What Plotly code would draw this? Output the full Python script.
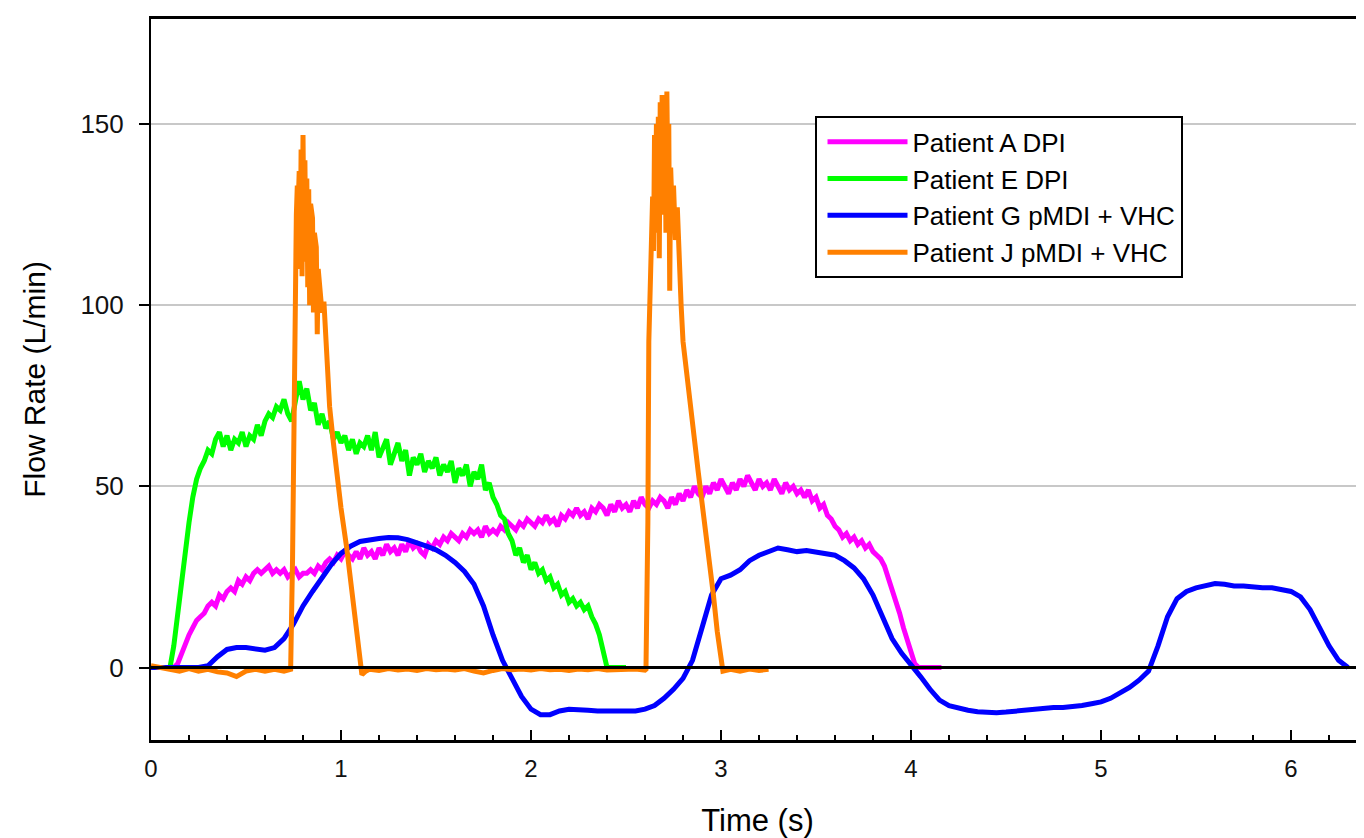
import numpy as np
import plotly.graph_objects as go

# ---------------- data ----------------
series_names = ["Patient A DPI", "Patient E DPI", "Patient G pMDI + VHC", "Patient J pMDI + VHC"]
series_colors = ["#FF00FF", "#00FF00", "#0000FF", "#FF8000"]

# Patient A DPI (magenta), sampled every 0.02 s from 0 to 4.16 s
time_A = np.round(np.arange(0, 4.16 + 1e-9, 0.02), 3)
flow_A = [
    0, 0, 0, 0, 0, 0, 0, 1, 4, 7,
    9, 11, 13, 14, 15, 17, 18, 17, 20, 19,
    21, 22, 21, 24, 23, 25, 24, 26, 27, 26,
    27, 28, 26, 27, 26, 27, 25, 26, 27, 25,
    26, 26, 27, 26, 28, 27, 29, 30, 29, 31,
    30, 32, 31, 30, 32, 30, 33, 31, 32, 30,
    33, 31, 34, 32, 33, 31, 34, 32, 35, 33,
    34, 32, 31, 34, 33, 35, 34, 36, 35, 37,
    36, 35, 37, 36, 38, 37, 38, 36, 39, 37,
    38, 37, 39, 38, 40, 39, 38, 40, 39, 41,
    40, 39, 41, 40, 42, 40, 41, 39, 42, 41,
    43, 42, 44, 42, 43, 41, 44, 43, 45, 44,
    42, 45, 43, 46, 44, 45, 43, 46, 44, 47,
    45, 44, 46, 45, 47, 46, 44, 47, 45, 48,
    46, 49, 47, 50, 48, 47, 50, 48, 51, 49,
    52, 50, 48, 51, 49, 52, 50, 53, 51, 49,
    52, 50, 51, 49, 52, 50, 48, 51, 49, 50,
    48, 49, 47, 49, 46, 47, 44, 45, 42, 41,
    39, 38, 36, 37, 35, 36, 34, 35, 33, 34,
    32, 31, 30, 28, 25, 22, 18, 15, 11, 8,
    4, 1, 0, 0, 0, 0, 0, 0, 0,
]

# Patient E DPI (green), sampled every 0.02 s from 0 to 2.50 s
time_E = np.round(np.arange(0, 2.50 + 1e-9, 0.02), 3)
flow_E = [
    0, 0, 0, 0, 0, 0,
    6, 15, 24, 32, 40, 47, 52, 55, 57, 60,
    59, 63, 65, 61, 64, 60, 63, 62, 65, 61,
    64, 63, 67, 64, 68, 70, 69, 72, 71, 74,
    70, 68, 73, 79, 74, 77, 71, 73, 67, 70,
    66, 68, 63, 65, 62, 64, 60, 63, 59, 62,
    61, 64, 60, 65, 58, 61, 63, 56, 59, 62,
    57, 60, 53, 58, 56, 59, 54, 57, 55, 58,
    53, 56, 54, 57, 51, 55, 53, 56, 50, 54,
    52, 56, 49, 51, 47, 45, 42, 41, 37, 35,
    31, 33, 29, 31, 27, 29, 26, 27, 24, 25,
    22, 23, 20, 21, 18, 19, 17, 18, 16, 17,
    14, 12, 9, 5, 0, 0, 0, 0, 0, 0,
]

# Patient G pMDI + VHC (blue), sampled every 0.05 s from 0 to 6.30 s
time_G = np.round(np.arange(0, 6.30 + 1e-9, 0.05), 3)
flow_G = [
    0, 0, 0, 0, 0, 0, 0.5, 3, 5, 5.5,
    5.5, 5, 4.8, 5.5, 8, 12, 17, 21, 25, 28.5,
    31.5, 33.5, 34.8, 35.3, 35.6, 35.9, 35.8, 35.3, 34.5, 33.5,
    32.5, 31, 29, 26.5, 23, 17, 9, 2, -3, -8,
    -11.5, -13, -13, -12, -11.5, -11.5, -11.8, -12, -12, -12.2,
    -12, -12, -11.5, -10.5, -8.5, -6, -3, 2, 11, 20,
    24.5, 25.5, 27, 29.5, 31, 32, 33, 32.5, 32, 32.3,
    31.8, 31.5, 31, 29.5, 27.5, 24.5, 20, 14, 8, 4,
    1, -2.5, -6, -9, -10.5, -11.2, -11.8, -12.2, -12.5, -12.5,
    -12.3, -12, -11.8, -11.5, -11.3, -11, -11, -10.8, -10.5, -10,
    -9.5, -8.5, -7, -5.5, -3.5, -1, 6, 14, 19, 21,
    22, 22.5, 23.2, 23, 22.5, 22.5, 22.2, 22, 22, 21.5,
    21, 19.5, 16, 11, 6, 2, 0,
]

# Patient J pMDI + VHC (orange), irregular sampling around the two spikes
time_J = [
    0.00, 0.05, 0.10, 0.15, 0.20, 0.25, 0.30, 0.35, 0.40, 0.45, 0.50, 0.55, 0.60, 0.65, 0.70, 0.735,
    0.745, 0.755, 0.765, 0.77, 0.775, 0.78, 0.785, 0.79, 0.795, 0.80, 0.805, 0.81, 0.815, 0.82,
    0.825, 0.83, 0.835, 0.84, 0.85, 0.855, 0.86, 0.87, 0.875, 0.88, 0.89, 0.90, 0.91, 0.92,
    0.93, 0.94, 0.96, 0.98, 1.00, 1.03, 1.05, 1.07, 1.09, 1.11, 1.13,
    1.15, 1.20, 1.25, 1.30, 1.35, 1.40, 1.45, 1.50, 1.55, 1.60, 1.65, 1.70, 1.75, 1.80, 1.85,
    1.90, 1.95, 2.00, 2.05, 2.10, 2.15, 2.20, 2.25, 2.30, 2.35, 2.40, 2.45, 2.50, 2.55, 2.60, 2.605,
    2.615, 2.62, 2.63, 2.64, 2.645, 2.65, 2.655, 2.66, 2.665, 2.67, 2.675, 2.68, 2.685, 2.69,
    2.70, 2.705, 2.71, 2.715, 2.72, 2.725, 2.73, 2.735, 2.74, 2.75, 2.76, 2.77, 2.78, 2.79,
    2.80, 2.82, 2.84, 2.86, 2.88, 2.90, 2.92, 2.94, 2.96, 2.98, 3.00, 3.01,
    3.05, 3.10, 3.15, 3.20, 3.25,
]
flow_J = [
    0.5, 0, -0.5, -1, -0.3, -1, -0.5, -1.2, -1.5, -2.5, -1, -0.5, -1, -0.5, -1, -0.5,
    30, 90, 125, 133, 128, 137, 110, 143, 108, 147, 118, 140, 112, 135,
    105, 132, 100, 128, 124, 98, 120, 116, 92, 110, 104, 98, 101, 92,
    80, 72, 62, 52, 44, 33, 24, 14, 5, -2, -1,
    -0.5, -0.8, -0.3, -0.7, -0.4, -0.8, -0.3, -0.6, -0.4, -0.7, -0.3, -1, -1.5, -0.8, -0.3,
    -0.6, -0.4, -0.7, -0.3, -0.6, -0.5, -0.8, -0.4, -0.6, -0.3, -0.7, -0.5, -0.6, -0.4, -0.7, -0.5,
    40, 90, 110, 130, 115, 147, 125, 150, 120, 152, 113, 156, 125, 158,
    140, 155, 120, 159, 135, 150, 104, 138, 130, 133, 118, 127, 110, 100,
    90, 80, 72, 63, 54, 46, 38, 29, 20, 10, 1, -1,
    -0.5, -1, -0.4, -0.8, -0.5,
]

y_tick_values = [0, 50, 100, 150]
x_tick_values = [0, 1, 2, 3, 4, 5, 6]

# ---------------- figure ----------------
FONT = "Liberation Sans, Arial, sans-serif"
fig = go.Figure()
all_t = [time_A, time_E, time_G, time_J]
all_v = [flow_A, flow_E, flow_G, flow_J]
for i, (name, col, t, v) in enumerate(zip(series_names, series_colors, all_t, all_v)):
    fig.add_trace(go.Scatter(
        x=t, y=v, mode="lines", name=name, legendgroup=f"g{i}",
        line=dict(color=col, width=5),
    ))

fig.add_hline(y=0, line=dict(color="black", width=3), layer="above")

# the page body adds an 8 px offset, so the figure is 8 px smaller than the window
fig.update_layout(
    width=1356, height=830,
    margin=dict(l=143, r=0, t=11, b=98, autoexpand=False),
    paper_bgcolor="white", plot_bgcolor="white",
    font=dict(family=FONT, color="black"),
    showlegend=True,
    legend=dict(
        x=0.547, y=0.865, xanchor="left", yanchor="top",
        bordercolor="black", borderwidth=2, bgcolor="white",
        font=dict(size=26, family=FONT, color="black"),
        tracegroupgap=0, itemwidth=80, indentation=6,
    ),
    xaxis=dict(
        range=[0, 6.384], tickvals=x_tick_values, automargin=False,
        showline=True, linecolor="black", linewidth=3, mirror=True,
        ticks="inside", ticklen=10, tickwidth=1.5, tickcolor="black",
        minor=dict(dtick=0.2, ticks="inside", ticklen=5, tickwidth=1.5, tickcolor="black", showgrid=False),
        showgrid=False, zeroline=False,
        tickfont=dict(size=24, family=FONT, color="#111"),
        ticklabelstandoff=5,
        title=dict(text="Time (s)", font=dict(size=31, family=FONT, color="black"), standoff=29),
    ),
    yaxis=dict(
        range=[-20, 179], tickvals=y_tick_values, automargin=False,
        showline=True, linecolor="black", linewidth=2,
        ticks="outside", ticklen=10, tickwidth=1.5, tickcolor="black",
        showgrid=True, gridcolor="#c8c8c8", gridwidth=1.5,
        zeroline=False,
        tickfont=dict(size=26, family=FONT, color="#111"),
        ticklabelstandoff=10,
        title=dict(text="Flow Rate (L/min)", font=dict(size=30, family=FONT, color="black"), standoff=26),
    ),
)

fig.write_html("out.html")
